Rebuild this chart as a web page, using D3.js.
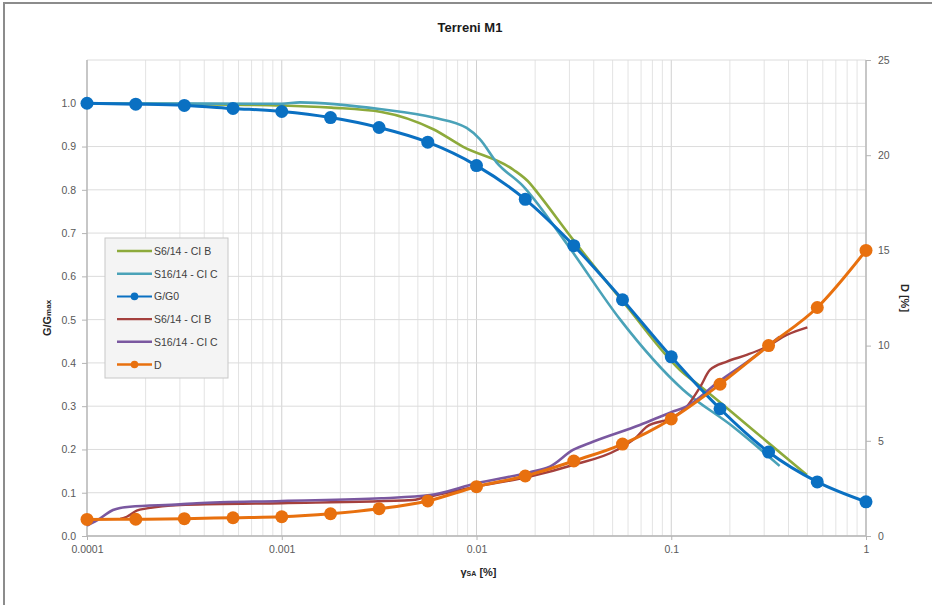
<!DOCTYPE html>
<html lang="it">
<head>
<meta charset="UTF-8">
<title>Terreni M1</title>
<style>
  body { margin: 0; background: #fff; }
  svg text { font-family: "Liberation Sans Narrow", "Liberation Sans", Arial, sans-serif; }
  .tick-label { font-size: 10.5px; fill: #595959; }
  .axis-title { font-size: 11px; font-weight: bold; fill: #262626; }
</style>
</head>
<body>
<script src="https://cdnjs.cloudflare.com/ajax/libs/d3/7.8.5/d3.min.js"></script>
<script>
// strain [%] for the marker series (quarter decades 0.0001 .. 1)
const strainPts = [0.0001, 0.000178, 0.000316, 0.000562, 0.001, 0.00178, 0.00316, 0.00562,
                   0.01, 0.0178, 0.0316, 0.0562, 0.1, 0.178, 0.316, 0.562, 1];
const gG0 = [1.0, 0.998, 0.995, 0.988, 0.981, 0.967, 0.944, 0.910,
             0.856, 0.778, 0.671, 0.546, 0.414, 0.294, 0.194, 0.125, 0.079];
const dPct = [0.87, 0.88, 0.91, 0.96, 1.01, 1.17, 1.43, 1.84,
              2.59, 3.15, 3.94, 4.83, 6.15, 7.97, 10.0, 12.0, 15.0];

// S6/14 - CI B (G/Gmax)
const s6gX = [0.0001, 0.0003, 0.001, 0.0018, 0.00325, 0.006, 0.0085, 0.0154, 0.0188, 0.0205,
              0.0313, 0.059, 0.115, 0.141, 0.263, 0.497];
const s6gY = [1.0, 0.998, 0.995, 0.99, 0.98, 0.94, 0.90, 0.847, 0.815, 0.794,
              0.685, 0.531, 0.377, 0.346, 0.245, 0.141];
// S16/14 - CI C (G/Gmax)
const s16gX = [0.0001, 0.001, 0.00124, 0.00325, 0.006, 0.0089, 0.0104, 0.0127, 0.0173, 0.0258,
               0.0313, 0.0547, 0.115, 0.207, 0.36];
const s16gY = [1.0, 0.999, 1.002, 0.986, 0.967, 0.943, 0.917, 0.863, 0.809, 0.708,
               0.655, 0.50, 0.338, 0.253, 0.162];
// S6/14 - CI B (D %)
const s6dX = [0.000148, 0.00016, 0.00018, 0.000203, 0.0003, 0.001, 0.0047, 0.0053, 0.01, 0.0188,
              0.0313, 0.0525, 0.0665, 0.0748, 0.1, 0.12, 0.141, 0.158, 0.193, 0.244, 0.309, 0.392, 0.5];
const s6dY = [0.9, 1.01, 1.33, 1.45, 1.63, 1.72, 1.89, 2.0, 2.6, 3.12,
              3.73, 4.52, 5.21, 5.74, 6.2, 6.79, 7.84, 8.72, 9.16, 9.51, 9.94, 10.56, 10.96];
// S16/14 - CI C (D %)
const s16dX = [0.0001, 0.000117, 0.000136, 0.000166, 0.0003, 0.000366, 0.001, 0.00325, 0.00577, 0.01,
               0.0188, 0.0238, 0.0313, 0.0396, 0.069, 0.1, 0.12, 0.171, 0.253, 0.36];
const s16dY = [0.55, 0.93, 1.37, 1.54, 1.66, 1.72, 1.84, 1.98, 2.15, 2.77,
               3.35, 3.64, 4.52, 4.95, 5.83, 6.5, 6.8, 8.02, 9.24, 10.47];

const xTicks = [0.0001, 0.001, 0.01, 0.1, 1];
const leftTicks = [0, 0.1, 0.2, 0.3, 0.4, 0.5, 0.6, 0.7, 0.8, 0.9, 1.0];
const rightTicks = [0, 5, 10, 15, 20, 25];

const colors = {
  s6g: "#8DAA3B", s16g: "#4AA2B8", gg0: "#0A70C2",
  s6d: "#A4403D", s16d: "#7A58A0", d: "#E8700E"
};

const W = 932, H = 605;
const m = { left: 87, right: 866, top: 60, bottom: 536 };

const svg = d3.select("body").append("svg")
  .attr("width", W).attr("height", H);

// chart frame
svg.append("rect").attr("x", 4).attr("y", 3).attr("width", W + 10).attr("height", H + 10)
  .attr("fill", "#fff").attr("stroke", "#8c8c8c").attr("stroke-width", 2);

const x = d3.scaleLog().domain([0.0001, 1]).range([m.left, m.right]);
const yL = d3.scaleLinear().domain([0, 1.1]).range([m.bottom, m.top]);
const yR = d3.scaleLinear().domain([0, 25]).range([m.bottom, m.top]);

// grid
const grid = svg.append("g");
const minorTicks = x.ticks();
grid.selectAll("line.vg").data(minorTicks).enter().append("line")
  .attr("x1", d => x(d)).attr("x2", d => x(d))
  .attr("y1", m.top).attr("y2", m.bottom)
  .attr("stroke", d => xTicks.includes(d) ? "#d0d0d0" : "#e3e3e3")
  .attr("stroke-width", 1);
grid.selectAll("line.hg").data(leftTicks.concat([1.1])).enter().append("line")
  .attr("x1", m.left).attr("x2", m.right)
  .attr("y1", d => yL(d)).attr("y2", d => yL(d))
  .attr("stroke", "#dcdcdc").attr("stroke-width", 1);

// axes
const axisColor = "#b5b5b5";
const gx = svg.append("g").attr("transform", `translate(0,${m.bottom})`)
  .call(d3.axisBottom(x).tickValues(xTicks).tickFormat(d => String(d)).tickSize(4).tickPadding(6));
const gl = svg.append("g").attr("transform", `translate(${m.left},0)`)
  .call(d3.axisLeft(yL).tickValues(leftTicks).tickFormat(d3.format(".1f")).tickSize(5).tickPadding(6));
const gr = svg.append("g").attr("transform", `translate(${m.right},0)`)
  .call(d3.axisRight(yR).tickValues(rightTicks).tickFormat(d3.format("d")).tickSize(5).tickPadding(7));
[gx, gl, gr].forEach(g => {
  g.select(".domain").attr("stroke", axisColor).attr("stroke-width", 1.3);
  g.selectAll(".tick line").attr("stroke", axisColor);
  g.selectAll(".tick text").attr("class", "tick-label").attr("font-family", null).attr("font-size", null);
});
gx.select(".domain").attr("d", `M${m.left},0H${m.right}`);
gl.select(".domain").attr("d", `M0,${m.bottom}V${m.top}`);
gr.select(".domain").attr("d", `M0,${m.bottom}V${m.top}`);

// lines
const zip = (xs, ys) => xs.map((v, i) => [v, ys[i]]);
const lineL = d3.line().x(d => x(d[0])).y(d => yL(d[1])).curve(d3.curveMonotoneX);
const lineR = d3.line().x(d => x(d[0])).y(d => yR(d[1])).curve(d3.curveMonotoneX);
const plot = svg.append("g");

plot.append("path").datum(zip(s6gX, s6gY)).attr("d", lineL)
  .attr("fill", "none").attr("stroke", colors.s6g).attr("stroke-width", 2.6);
plot.append("path").datum(zip(s16gX, s16gY)).attr("d", lineL)
  .attr("fill", "none").attr("stroke", colors.s16g).attr("stroke-width", 2.6);
plot.append("path").datum(zip(s6dX, s6dY)).attr("d", lineR)
  .attr("fill", "none").attr("stroke", colors.s6d).attr("stroke-width", 2.4);
plot.append("path").datum(zip(s16dX, s16dY)).attr("d", lineR)
  .attr("fill", "none").attr("stroke", colors.s16d).attr("stroke-width", 2.6);

plot.append("path").datum(zip(strainPts, gG0)).attr("d", lineL)
  .attr("fill", "none").attr("stroke", colors.gg0).attr("stroke-width", 3);
plot.selectAll("circle.gg0").data(zip(strainPts, gG0)).enter().append("circle")
  .attr("cx", d => x(d[0])).attr("cy", d => yL(d[1])).attr("r", 6.5).attr("fill", colors.gg0);

plot.append("path").datum(zip(strainPts, dPct)).attr("d", lineR)
  .attr("fill", "none").attr("stroke", colors.d).attr("stroke-width", 3);
plot.selectAll("circle.d").data(zip(strainPts, dPct)).enter().append("circle")
  .attr("cx", d => x(d[0])).attr("cy", d => yR(d[1])).attr("r", 6.5).attr("fill", colors.d);

// title
svg.append("text").attr("x", 470).attr("y", 32).attr("text-anchor", "middle")
  .attr("font-size", 13).attr("font-weight", "bold").attr("fill", "#1a1a1a").text("Terreni M1");

// axis titles
const lt = svg.append("text").attr("class", "axis-title")
  .attr("transform", `translate(51,${(m.top + m.bottom) / 2 + 20}) rotate(-90)`)
  .attr("text-anchor", "middle");
lt.append("tspan").text("G/G");
lt.append("tspan").attr("font-size", 8).text("max");

svg.append("text").attr("class", "axis-title")
  .attr("transform", `translate(901,${(m.top + m.bottom) / 2}) rotate(90)`)
  .attr("text-anchor", "middle").text("D [%]");

const xt = svg.append("text").attr("class", "axis-title")
  .attr("x", (m.left + m.right) / 2 + 2).attr("y", 576).attr("text-anchor", "middle");
xt.append("tspan").text("γ");
xt.append("tspan").attr("font-size", 7).text("SA");
xt.append("tspan").text(" [%]");

// legend
const legendItems = [
  { label: "S6/14 - CI B", color: colors.s6g, marker: false, w: 2.6 },
  { label: "S16/14 - CI C", color: colors.s16g, marker: false, w: 2.6 },
  { label: "G/G0", color: colors.gg0, marker: true, w: 2 },
  { label: "S6/14 - CI B", color: colors.s6d, marker: false, w: 2.4 },
  { label: "S16/14 - CI C", color: colors.s16d, marker: false, w: 2.6 },
  { label: "D", color: colors.d, marker: true, w: 2.6 }
];
const lg = svg.append("g").attr("transform", "translate(105,238)");
lg.append("rect").attr("width", 123).attr("height", 140)
  .attr("fill", "#f4f4f4").attr("stroke", "#c8c8c8").attr("stroke-width", 1);
const li = lg.selectAll("g.item").data(legendItems).enter().append("g")
  .attr("transform", (d, i) => `translate(0,${13 + i * 22.7})`);
li.append("line").attr("x1", 12).attr("x2", 47).attr("y1", 0).attr("y2", 0)
  .attr("stroke", d => d.color).attr("stroke-width", d => d.w);
li.filter(d => d.marker).append("circle").attr("cx", 29.5).attr("cy", 0).attr("r", 3.8)
  .attr("fill", d => d.color);
li.append("text").attr("x", 49).attr("y", 4).attr("font-size", 10.5).attr("fill", "#404040")
  .text(d => d.label);
</script>
</body>
</html>
